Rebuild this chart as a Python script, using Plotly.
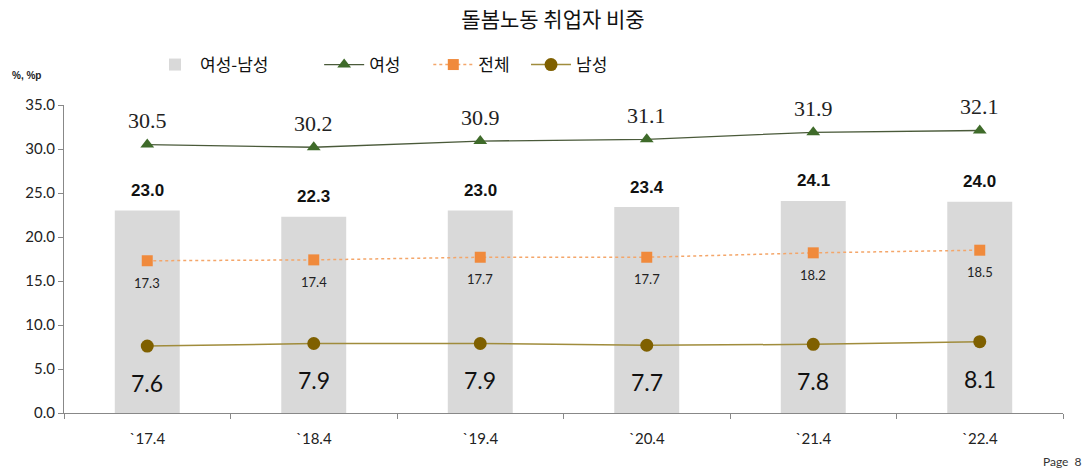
import plotly.graph_objects as go

categories = ["`17.4", "`18.4", "`19.4", "`20.4", "`21.4", "`22.4"]
gap_vals = [23.0, 22.3, 23.0, 23.4, 24.1, 24.0]      # 여성-남성
female_vals = [30.5, 30.2, 30.9, 31.1, 31.9, 32.1]   # 여성
total_vals = [17.3, 17.4, 17.7, 17.7, 18.2, 18.5]    # 전체
male_vals = [7.6, 7.9, 7.9, 7.7, 7.8, 8.1]           # 남성
y_ticks = [0, 5, 10, 15, 20, 25, 30, 35]

KR = "Noto Sans CJK KR"
NB = "\u00a0"
fig = go.Figure()

fig.add_trace(go.Bar(x=categories, y=gap_vals, name="여성-남성" + NB * 12,
                     marker=dict(color="#d9d9d9", line=dict(width=0)), width=0.39))
fig.add_trace(go.Scatter(x=categories, y=female_vals, name="여성" + NB * 6, mode="lines+markers",
                         line=dict(color="#4a5a3a", width=1.3),
                         marker=dict(symbol="triangle-up", size=12, color="#3f6b2a")))
fig.add_trace(go.Scatter(x=categories, y=total_vals, name="전체" + NB * 3, mode="lines+markers",
                         line=dict(color="#f4a66a", width=1.5, dash="dot"),
                         marker=dict(symbol="square", size=11, color="#f08a3c")))
fig.add_trace(go.Scatter(x=categories, y=male_vals, name="남성", mode="lines+markers",
                         line=dict(color="#a08c3c", width=1.5),
                         marker=dict(symbol="circle", size=13, color="#7f6000")))

ann = []
for c, v in zip(categories, female_vals):
    ann.append(dict(x=c, y=v, text=f"{v:.1f}", showarrow=False, yshift=24,
                    font=dict(family="Liberation Serif", size=22, color="#222")))
for c, v in zip(categories, gap_vals):
    ann.append(dict(x=c, y=v, text=f"<b>{v:.1f}</b>", showarrow=False, yshift=20,
                    font=dict(family="Liberation Sans", size=17, color="#111")))
for c, v in zip(categories, total_vals):
    ann.append(dict(x=c, y=v, text=f"{v:.1f}", showarrow=False, yshift=-22,
                    font=dict(family="Lato", size=13, color="#222")))
for c, v in zip(categories, male_vals):
    ann.append(dict(x=c, y=v, text=f"{v:.1f}", showarrow=False, yshift=-37,
                    font=dict(family="Lato", size=23, color="#111")))
ann.append(dict(xref="paper", yref="paper", x=-54/999, y=(413-75)/308, xanchor="left",
                yanchor="middle", text="<b>%, %p</b>", showarrow=False,
                font=dict(family="Liberation Sans", size=10, color="#222")))
ann.append(dict(xref="paper", yref="paper", x=(1084-64)/999, y=-(461-413)/308,
                xanchor="right", yanchor="middle", text="Page  8", showarrow=False,
                font=dict(family="Lato", size=12, color="#333")))

fig.update_layout(
    width=1092, height=469,
    margin=dict(l=64, r=29, t=105, b=56),
    paper_bgcolor="white", plot_bgcolor="white",
    title=dict(text="돌봄노동 취업자 비중", x=553/1092, xanchor="center",
               y=1 - 20/469, yanchor="middle",
               font=dict(family=KR, size=21, color="#111")),
    showlegend=True,
    legend=dict(orientation="h", x=(150-64)/999, xanchor="left", y=(413-65)/308,
                yanchor="middle", font=dict(family=KR, size=17, color="#111"),
                bgcolor="rgba(0,0,0,0)", traceorder="normal", itemwidth=40),
    annotations=ann,
    bargap=0.6,
)
fig.update_xaxes(type="category", range=[-0.5, 5.5], showline=True, linecolor="#888",
                 linewidth=1, ticks="outside", tickson="boundaries", ticklen=5,
                 tickcolor="#888", showgrid=False, ticklabelstandoff=12,
                 tickfont=dict(family="Lato", size=15, color="#222"))
fig.update_yaxes(range=[0, 35], tickvals=y_ticks, tickformat=".1f", showline=True,
                 linecolor="#888", linewidth=1, ticks="outside", ticklen=5,
                 tickcolor="#888", showgrid=False, zeroline=False,
                 tickfont=dict(family="Lato", size=15, color="#222"))

fig.write_html("out.html")
